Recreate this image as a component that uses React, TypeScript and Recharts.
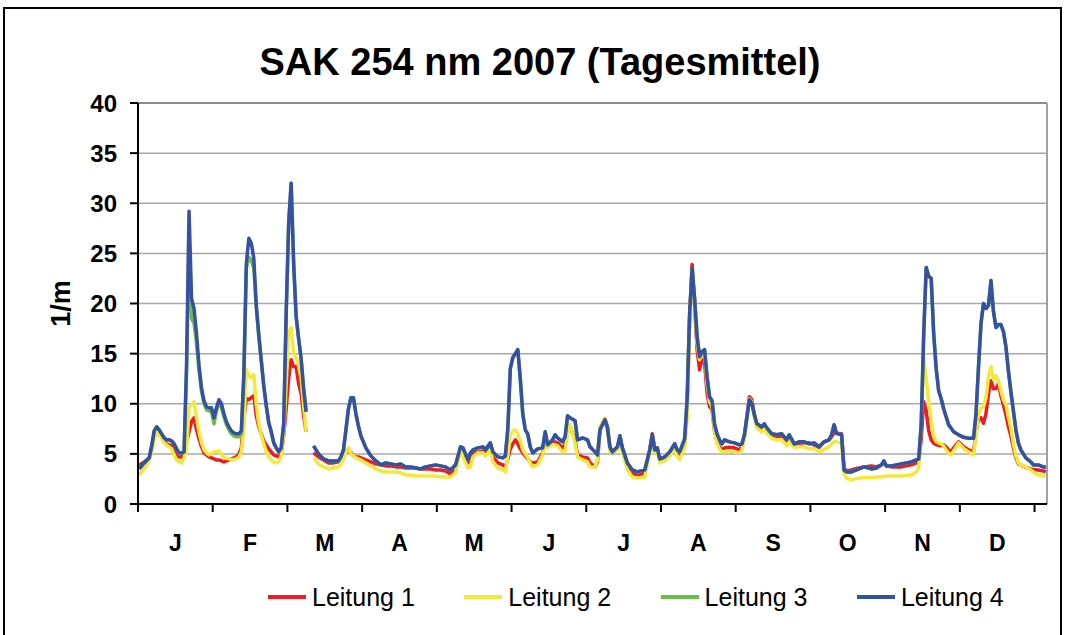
import { LineChart, Line, XAxis, YAxis, CartesianGrid, ReferenceLine, Label } from 'recharts';

const FONT = "'Liberation Sans', Arial, sans-serif";

const monthLabels = ['J', 'F', 'M', 'A', 'M', 'J', 'J', 'A', 'S', 'O', 'N', 'D'];
const monthTicks = [0, 30, 60, 90, 120, 150, 180, 210, 240, 270, 300, 330, 360];
const yTicks = [0, 5, 10, 15, 20, 25, 30, 35, 40];

// day of year (1..365); 69/70 are missing in the source
const days = [
  1, 3, 5, 6, 7, 8, 9, 10, 11, 12, 13, 14, 15, 16, 17, 18, 19, 20, 21, 22, 23, 24, 25, 26, 27, 28, 29, 30, 31, 32, 33,
  34, 35, 36, 37, 38, 39, 40, 41, 42, 43, 44, 45, 46, 47, 48, 49, 50, 51, 52, 53, 54, 55, 56, 57, 58, 59, 60, 61, 62,
  63, 64, 65, 66, 67, 68,
  69, 70,
  71, 73, 75, 77, 79, 81, 82, 83, 84, 85, 86, 87, 88, 89, 90, 92, 94, 96, 98, 100, 102, 104, 106, 108, 110, 112, 114,
  116, 118, 120, 122, 124,
  126, 128, 130, 131, 133, 134, 135, 137, 139, 140, 142, 143, 145, 147, 148, 149, 150, 151, 152, 153, 154, 155, 156,
  157, 158, 159, 161, 163, 164, 165, 167, 168, 169, 171, 172, 173, 174, 176, 177, 179, 181, 182, 184, 185, 186, 188,
  189, 190, 191, 193, 194, 195, 197, 199, 201,
  204, 206, 207, 208, 209, 210, 212, 214, 216, 217, 218, 220, 221, 222, 223, 224, 225, 226, 227, 228, 229, 230, 231,
  232, 233, 234, 235, 236, 238, 240, 242, 243, 244, 246, 247, 248, 249, 251, 252, 253, 255, 257, 259, 261, 262, 264,
  266, 268, 270, 272, 274,
  276, 278, 279, 280, 281, 283, 284, 285, 287, 289, 292, 295, 297, 299, 300, 301, 303, 305, 307, 309, 311, 313, 314,
  315, 316, 317, 318, 319, 320, 321, 322, 323, 324, 325, 326, 327, 328, 330, 332, 334, 336,
  337, 338, 339, 340, 341, 342, 343, 344, 345, 346, 347, 348, 349, 350, 351, 352, 353, 354, 355, 357, 359, 360, 362,
  364, 365,
];

const leitung1 = [
  3.9, 4.2, 4.6, 5.5, 6.8, 7.4, 7.1, 6.8, 6.3, 6.0, 5.9, 5.8, 5.3, 4.8, 4.7, 4.7, 5.0, 6.2, 7.2, 8.2, 8.6, 7.4, 6.5,
  5.7, 5.1, 4.9, 4.7, 4.6, 4.5, 4.4, 4.4, 4.3, 4.2, 4.3, 4.4, 4.5, 4.6, 4.7, 5.0, 5.6, 8.5, 10.5, 10.4, 10.6, 10.8,
  8.8, 7.7, 7.0, 6.3, 5.9, 5.5, 5.2, 4.9, 4.8, 4.7, 5.0, 6.8, 9.5, 12.5, 14.4, 13.7, 13.7, 12.0, 11.0, 8.8, 7.2,
  null, null,
  5.1, 4.7, 4.4, 4.1, 4.1, 4.2, 4.6, 4.9, 5.3, 5.3, 5.1, 4.8, 4.7, 4.7, 4.6, 4.4, 4.2, 4.0, 3.9, 3.8, 3.8, 3.7, 3.7,
  3.6, 3.6, 3.6, 3.5, 3.5, 3.5, 3.4, 3.4, 3.3,
  3.0, 3.4, 5.6, 5.3, 4.1, 4.4, 5.1, 5.2, 5.3, 5.1, 5.7, 4.7, 4.1, 3.9, 3.7, 4.5, 5.5, 6.0, 6.4, 6.0, 5.5, 5.1, 4.8,
  4.5, 4.2, 4.1, 4.2, 5.1, 6.8, 5.7, 6.1, 6.2, 6.1, 5.6, 5.9, 7.4, 7.7, 6.4, 4.9, 4.7, 4.6, 4.1, 3.7, 4.2, 7.4, 8.5,
  7.7, 5.6, 5.1, 5.5, 6.7, 5.4, 3.7, 3.1, 2.8,
  3.1, 5.4, 7.0, 5.4, 5.6, 4.4, 4.6, 5.1, 6.0, 5.2, 5.0, 6.0, 9.5, 18.5, 23.9, 19.8, 15.4, 13.4, 14.4, 14.2, 11.0,
  9.7, 9.4, 7.3, 6.2, 5.7, 5.4, 5.6, 5.65, 5.6, 5.4, 5.7, 6.7, 10.7, 10.4, 8.9, 7.9, 7.55, 7.9, 7.4, 6.9, 6.7, 6.8,
  6.2, 6.65, 5.9, 6.05, 6.1, 6.1, 5.9, 5.65,
  6.2, 6.4, 6.7, 7.05, 7.05, 7.0, 3.6, 3.3, 3.4, 3.55, 3.7, 3.8, 3.7, 3.9, 4.1, 3.8, 3.7, 3.7, 3.7, 3.8, 3.9, 4.1,
  4.3, 6.5, 10.2, 9.3, 7.3, 6.4, 6.05, 5.9, 5.85, 5.8, 5.9, 5.7, 5.4, 5.2, 5.6, 6.2, 5.7, 5.4, 5.2,
  7.2, 8.5, 8.6, 8.05, 9.0, 11.0, 12.3, 11.5, 11.5, 12.0, 10.8, 9.9, 8.9, 7.7, 6.8, 5.6, 4.6, 4.0, 3.9, 3.65, 3.5,
  3.45, 3.4, 3.3, 3.2,
];

const leitung2 = [
  2.9, 3.5, 4.3, 5.2, 6.4, 7.2, 6.9, 6.6, 6.1, 5.9, 5.7, 5.5, 4.9, 4.4, 4.2, 4.1, 4.6, 5.5, 9.6, 9.9, 10.2, 8.6, 7.2,
  6.1, 5.4, 5.1, 4.9, 5.0, 5.2, 5.2, 5.3, 4.9, 4.7, 4.55, 4.5, 4.45, 4.45, 4.5, 4.7, 5.2, 7.5, 13.4, 12.8, 12.6, 12.9,
  9.9, 8.0, 6.9, 6.0, 5.2, 4.7, 4.4, 4.2, 4.1, 4.2, 4.8, 7.0, 12.0, 17.2, 17.6, 15.0, 14.6, 13.8, 12.5, 9.8, 7.2,
  null, null,
  4.6, 4.0, 3.7, 3.5, 3.6, 3.7, 4.0, 4.5, 5.2, 5.6, 5.0, 4.8, 4.6, 4.5, 4.4, 4.1, 3.8, 3.5, 3.3, 3.2, 3.2, 3.2, 3.1,
  2.9, 2.9, 2.8, 2.8, 2.8, 2.8, 2.8, 2.7, 2.7,
  2.7, 3.1, 5.4, 4.7, 3.6, 3.7, 4.7, 5.1, 5.1, 4.8, 5.4, 4.2, 3.6, 3.4, 3.2, 4.8, 6.8, 7.3, 7.4, 7.0, 6.3, 5.4, 5.0,
  4.6, 4.1, 3.7, 3.9, 4.9, 6.4, 5.6, 5.9, 5.9, 5.8, 5.2, 5.3, 7.1, 7.9, 6.1, 4.7, 4.4, 4.2, 3.7, 3.7, 4.4, 7.7, 8.6,
  7.4, 5.2, 5.1, 5.4, 6.4, 5.1, 3.4, 2.7, 2.6,
  2.7, 5.1, 6.7, 5.1, 5.1, 4.1, 4.3, 4.8, 5.55, 4.7, 4.45, 5.6, 8.5, 18.0, 23.4, 20.2, 16.0, 14.4, 15.0, 15.2, 12.0,
  10.2, 9.7, 7.4, 6.0, 5.5, 5.2, 5.2, 5.3, 5.2, 5.1, 5.4, 6.55, 10.5, 10.2, 8.55, 7.55, 7.2, 7.55, 7.05, 6.55, 6.4,
  6.4, 5.8, 6.3, 5.65, 5.7, 5.7, 5.5, 5.5, 5.2,
  5.45, 5.7, 6.0, 6.2, 6.2, 6.1, 3.05, 2.55, 2.4, 2.55, 2.65, 2.65, 2.7, 2.7, 2.75, 2.8, 2.8, 2.8, 2.8, 2.85, 2.9,
  3.2, 3.6, 8.0, 14.5, 12.5, 10.3, 8.3, 6.8, 6.2, 6.1, 6.0, 5.8, 5.4, 5.05, 4.9, 5.3, 6.1, 5.55, 5.2, 4.9,
  7.0, 9.0, 9.6, 9.7, 10.6, 12.7, 13.7, 12.4, 12.8, 12.3, 11.3, 10.4, 9.9, 8.7, 7.6, 6.0, 4.8, 4.1, 3.9, 3.7, 3.4,
  3.2, 2.9, 2.8, 2.8,
];

const leitung3 = [
  3.5, 4.1, 4.6, 5.8, 7.3, 7.7, 7.4, 7.0, 6.6, 6.4, 6.4, 6.3, 6.0, 5.5, 5.1, 5.1, 5.2, 13.0, 27.0, 18.5, 18.0, 16.0,
  13.3, 11.2, 10.0, 9.4, 9.3, 9.2, 8.0, 9.2, 10.2, 9.6, 8.7, 7.9, 7.4, 7.0, 6.8, 6.7, 6.7, 7.0, 12.5, 23.5, 24.6,
  24.3, 23.5, 19.5, 16.7, 14.3, 11.8, 9.8, 8.1, 7.2, 6.1, 5.6, 5.2, 5.6, 8.0, 19.0, 28.0, 32.0, 24.0, 18.7, 16.5,
  14.5, 11.5, 9.2,
  null, null,
  5.8, 5.0, 4.5, 4.3, 4.3, 4.3, 4.7, 5.4, 7.4, 9.5, 10.6, 10.6, 9.0, 7.8, 6.8, 5.6, 4.8, 4.3, 3.9, 4.1, 4.0, 3.9, 4.0,
  3.7, 3.7, 3.6, 3.5, 3.7, 3.8, 3.9, 3.8, 3.7,
  3.4, 3.9, 5.7, 5.6, 4.4, 5.1, 5.4, 5.6, 5.7, 5.4, 6.1, 5.2, 4.7, 4.6, 4.8, 7.5, 13.5, 14.6, 15.0, 15.4, 12.5, 9.0,
  7.4, 7.0, 5.7, 5.1, 5.5, 5.6, 7.2, 5.9, 6.4, 6.9, 6.6, 6.2, 6.7, 8.8, 8.6, 8.3, 6.4, 6.6, 6.4, 5.7, 5.2, 4.9, 7.4,
  8.4, 7.6, 5.7, 5.2, 5.7, 6.8, 5.6, 4.1, 3.4, 3.2,
  3.4, 5.4, 6.9, 5.4, 5.6, 4.5, 4.7, 5.2, 6.0, 5.4, 5.2, 6.5, 10.5, 19.0, 23.5, 20.5, 16.7, 14.7, 15.2, 15.4, 12.7,
  10.7, 10.3, 8.0, 7.0, 6.4, 6.0, 6.4, 6.2, 6.1, 5.9, 6.0, 6.9, 10.4, 10.0, 8.9, 8.0, 7.7, 8.0, 7.6, 7.0, 6.9, 7.0,
  6.4, 6.9, 6.0, 6.2, 6.2, 6.0, 6.1, 5.7,
  6.2, 6.4, 6.9, 7.9, 7.05, 6.9, 3.4, 3.2, 3.2, 3.4, 3.7, 3.5, 3.6, 3.9, 4.3, 3.8, 3.8, 3.9, 4.0, 4.1, 4.2, 4.4, 4.5,
  8.0, 17.0, 23.6, 22.7, 22.5, 17.0, 13.5, 11.3, 10.5, 9.5, 8.7, 7.9, 7.55, 7.2, 6.9, 6.65, 6.55, 6.55,
  9.0, 13.7, 18.0, 20.0, 19.5, 19.8, 22.3, 19.2, 17.6, 17.9, 17.9, 17.2, 15.7, 13.3, 11.2, 9.3, 7.4, 6.1, 5.4, 4.6,
  4.2, 3.9, 3.9, 3.7, 3.7,
];

const leitung4 = [
  3.5, 4.1, 4.6, 5.8, 7.3, 7.7, 7.4, 7.0, 6.6, 6.4, 6.4, 6.3, 6.0, 5.5, 5.1, 5.1, 5.2, 14.0, 29.2, 20.5, 19.5, 17.0,
  13.8, 11.6, 10.3, 9.7, 9.6, 9.6, 8.6, 9.6, 10.4, 10.0, 9.0, 8.2, 7.7, 7.3, 7.1, 7.0, 7.0, 7.3, 13.0, 24.0, 26.5,
  26.0, 24.5, 19.8, 16.9, 14.3, 11.8, 9.8, 8.1, 7.2, 6.1, 5.6, 5.2, 5.6, 8.0, 19.0, 28.0, 32.0, 24.0, 18.7, 16.5,
  14.5, 11.5, 9.2,
  null, null,
  5.8, 5.0, 4.5, 4.3, 4.3, 4.3, 4.7, 5.4, 7.4, 9.5, 10.6, 10.6, 9.0, 7.8, 6.8, 5.6, 4.8, 4.3, 3.9, 4.1, 4.0, 3.9, 4.0,
  3.7, 3.7, 3.6, 3.5, 3.7, 3.8, 3.9, 3.8, 3.7,
  3.4, 3.9, 5.7, 5.6, 4.4, 5.1, 5.4, 5.6, 5.7, 5.4, 6.1, 5.2, 4.7, 4.6, 4.8, 7.5, 13.5, 14.6, 15.0, 15.4, 12.5, 9.0,
  7.4, 7.0, 5.7, 5.1, 5.5, 5.6, 7.2, 5.9, 6.4, 6.9, 6.6, 6.2, 6.7, 8.8, 8.6, 8.3, 6.4, 6.6, 6.4, 5.7, 5.2, 4.9, 7.4,
  8.4, 7.6, 5.7, 5.2, 5.7, 6.8, 5.6, 4.1, 3.4, 3.2,
  3.4, 5.4, 6.9, 5.4, 5.6, 4.5, 4.7, 5.2, 6.0, 5.4, 5.2, 6.5, 10.5, 19.0, 23.5, 20.5, 16.7, 14.7, 15.2, 15.4, 12.7,
  10.7, 10.3, 8.0, 7.0, 6.4, 6.0, 6.4, 6.2, 6.1, 5.9, 6.0, 6.9, 10.4, 10.0, 8.9, 8.0, 7.7, 8.0, 7.6, 7.0, 6.9, 7.0,
  6.4, 6.9, 6.0, 6.2, 6.2, 6.0, 6.1, 5.7,
  6.2, 6.4, 6.9, 7.9, 7.05, 6.9, 3.4, 3.2, 3.2, 3.4, 3.7, 3.5, 3.6, 3.9, 4.3, 3.8, 3.8, 3.9, 4.0, 4.1, 4.2, 4.4, 4.5,
  8.0, 17.0, 23.6, 22.7, 22.5, 17.0, 13.5, 11.3, 10.5, 9.5, 8.7, 7.9, 7.55, 7.2, 6.9, 6.65, 6.55, 6.55,
  9.0, 13.7, 18.0, 20.0, 19.5, 19.8, 22.3, 19.2, 17.6, 17.9, 17.9, 17.2, 15.7, 13.3, 11.2, 9.3, 7.4, 6.1, 5.4, 4.6,
  4.2, 3.9, 3.9, 3.7, 3.7,
];

const series = [
  { key: 'l1', name: 'Leitung 1', color: '#ed1c24' },
  { key: 'l2', name: 'Leitung 2', color: '#f2e93b' },
  { key: 'l3', name: 'Leitung 3', color: '#6cbd45' },
  { key: 'l4', name: 'Leitung 4', color: '#3451a3' },
];

const chartW = 1065;
const chartH = 635;
const margin = { top: 103, right: 18, bottom: 71, left: 0 };
const yAxisW = 138;
const plotW = chartW - margin.left - margin.right - yAxisW;
const halfMonth = (15 / 365) * plotW;

function MonthTick(props: any) {
  const { x, y, payload } = props;
  const label = monthLabels[payload.value / 30];
  if (!label) return <g />;
  return (
    <text x={x + halfMonth} y={y} dy={37} textAnchor="middle" fill="#000" fontSize={23} fontWeight="bold">
      {label}
    </text>
  );
}

function YTitle(props: any) {
  const { viewBox } = props;
  const x = viewBox.x + 70;
  const y = viewBox.y + viewBox.height / 2;
  return (
    <text x={x} y={y} transform={`rotate(-90, ${x}, ${y})`} textAnchor="middle" fill="#000" fontSize={27} fontWeight="bold">
      1/m
    </text>
  );
}

export default function App() {
  const rows = days.map((d, i) => ({
    t: d - 0.5,
    l1: leitung1[i],
    l2: leitung2[i],
    l3: leitung3[i],
    l4: leitung4[i],
  }));

  return (
    <div style={{ position: 'fixed', left: 0, top: 0, width: chartW, height: chartH, background: '#fff', overflow: 'hidden', fontFamily: FONT }}>
      <div style={{ position: 'absolute', left: 3, top: 7, width: 1055, height: 700, border: '2px solid #000' }} />
      <div style={{ position: 'absolute', left: 0, top: 43, width: 1080, textAlign: 'center', fontSize: 38, fontWeight: 'bold', lineHeight: '38px' }}>
        SAK 254 nm 2007 (Tagesmittel)
      </div>
      <div style={{ position: 'absolute', left: 0, top: 0 }}>
        <LineChart width={chartW} height={chartH} data={rows} margin={margin}>
          <CartesianGrid vertical={false} stroke="#a8a8a8" strokeWidth={1.5} />
          <ReferenceLine y={40} stroke="#8c8c8c" strokeWidth={2} />
          <ReferenceLine x={365} stroke="#a0a0a0" strokeWidth={2} />
          <XAxis
            type="number"
            dataKey="t"
            domain={[0, 365]}
            ticks={monthTicks}
            interval={0}
            tick={<MonthTick />}
            tickSize={8}
            height={60}
            axisLine={{ stroke: '#000', strokeWidth: 2 }}
            tickLine={{ stroke: '#000', strokeWidth: 2 }}
          />
          <YAxis
            domain={[0, 40]}
            ticks={yTicks}
            interval={0}
            width={yAxisW}
            tickSize={8}
            tickMargin={13}
            tick={{ fill: '#000', fontSize: 24, fontWeight: 'bold' }}
            axisLine={{ stroke: '#000', strokeWidth: 2 }}
            tickLine={{ stroke: '#000', strokeWidth: 2 }}
          >
            <Label content={<YTitle />} />
          </YAxis>
          {series.map((s) => (
            <Line
              key={s.key}
              type="linear"
              dataKey={s.key}
              name={s.name}
              stroke={s.color}
              strokeWidth={3.5}
              strokeLinejoin="round"
              dot={false}
              activeDot={false}
              isAnimationActive={false}
            />
          ))}
        </LineChart>
      </div>
      <div style={{ position: 'absolute', left: 0, top: 584, width: chartW, height: 28 }}>
        {series.map((s, i) => (
          <div key={s.key} style={{ position: 'absolute', left: 268 + i * 196.3, top: 0, height: 26, display: 'flex', alignItems: 'center' }}>
            <span style={{ display: 'inline-block', width: 38, height: 4, background: s.color, marginRight: 6 }} />
            <span style={{ fontSize: 25, lineHeight: '26px', color: '#000' }}>{s.name}</span>
          </div>
        ))}
      </div>
    </div>
  );
}
